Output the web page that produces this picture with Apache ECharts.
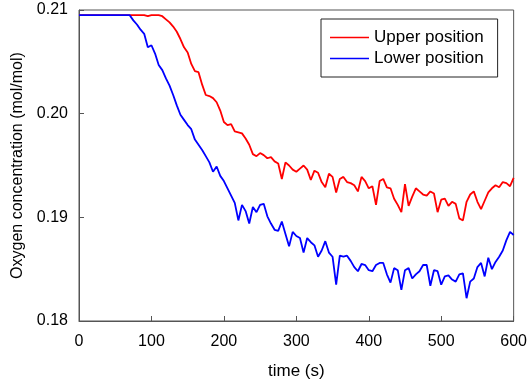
<!DOCTYPE html>
<html>
<head>
<meta charset="utf-8">
<script src="https://cdn.jsdelivr.net/npm/echarts@6/dist/echarts.min.js"></script>
<style>html,body{margin:0;padding:0;background:#fff}#c{width:530px;height:385px}</style>
</head>
<body>
<div id="c"></div>
<script>
// time (s), 5 s steps
var times = [];
for (var i = 0; i <= 120; i++) times.push(i * 5);

var upperPosition = [
 0.2095,0.2095,0.2095,0.2095,0.2095,0.2095,0.2095,0.2095,0.2095,0.2095,
 0.2095,0.2095,0.2095,0.2095,0.2095,0.2095,0.2095,0.2095,0.2095,0.2094,
 0.2095,0.2095,0.2095,0.2094,0.2091,0.2088,0.2084,0.2079,0.2072,0.2064,
 0.2059,0.2048,0.2041,0.2040,0.2028,0.2018,0.2017,0.2015,0.2011,0.2003,
 0.1992,0.1989,0.1990,0.1983,0.1982,0.1981,0.1976,0.1970,0.1961,0.1959,
 0.1962,0.1960,0.1957,0.1958,0.1954,0.1952,0.1937,0.1953,0.1950,0.1946,
 0.1944,0.1947,0.1950,0.1946,0.1936,0.1945,0.1943,0.1934,0.1929,0.1942,
 0.1939,0.1924,0.1937,0.1939,0.1934,0.1933,0.1931,0.1925,0.1939,0.1935,
 0.1928,0.1930,0.1912,0.1935,0.1937,0.1929,0.1928,0.1918,0.1912,0.1905,
 0.1932,0.1911,0.1920,0.1928,0.1925,0.1922,0.1921,0.1925,0.1923,0.1905,
 0.1917,0.1918,0.1911,0.1915,0.1913,0.1899,0.1897,0.1915,0.1922,0.1925,
 0.1915,0.1908,0.1916,0.1924,0.1928,0.1931,0.1929,0.1934,0.1933,0.1930,
 0.1938
];

var lowerPosition = [
 0.2095,0.2095,0.2095,0.2095,0.2095,0.2095,0.2095,0.2095,0.2095,0.2095,
 0.2095,0.2095,0.2095,0.2095,0.2095,0.2090,0.2086,0.2081,0.2077,0.2064,
 0.2066,0.2058,0.2047,0.2042,0.2034,0.2027,0.2018,0.2008,0.1999,0.1994,
 0.1989,0.1985,0.1975,0.1970,0.1965,0.1959,0.1953,0.1944,0.1949,0.1940,
 0.1935,0.1928,0.1921,0.1914,0.1897,0.1912,0.1906,0.1894,0.1910,0.1905,
 0.1912,0.1913,0.1901,0.1894,0.1888,0.1887,0.1896,0.1884,0.1872,0.1886,
 0.1882,0.1880,0.1866,0.1880,0.1876,0.1873,0.1862,0.1868,0.1877,0.1866,
 0.1862,0.1835,0.1863,0.1862,0.1863,0.1858,0.1852,0.1848,0.1855,0.1854,
 0.1849,0.1848,0.1854,0.1856,0.1856,0.1845,0.1837,0.1851,0.1849,0.1830,
 0.1849,0.1851,0.1841,0.1845,0.1848,0.1854,0.1854,0.1834,0.1849,0.1848,
 0.1835,0.1843,0.1844,0.1840,0.1838,0.1845,0.1846,0.1822,0.1838,0.1841,
 0.1852,0.1856,0.1843,0.1861,0.1850,0.1857,0.1862,0.1868,0.1878,0.1886,
 0.1883
];

var seriesNames = ['Upper position', 'Lower position'];

function pairs(t, v) { return t.map(function (x, i) { return [x, v[i]]; }); }

var FONT = '"Liberation Sans", Arial, sans-serif';
var chart = echarts.init(document.getElementById('c'), null, { renderer: 'canvas' });
chart.setOption({
  animation: false,
  backgroundColor: '#fff',
  textStyle: { fontFamily: FONT },
  grid: { left: 79, right: 16, top: 10, bottom: 62, show: true, borderColor: '#555', borderWidth: 1, backgroundColor: 'transparent' },
  legend: {
    orient: 'vertical', left: 321, top: 19,
    padding: [10, 14, 10, 9],
    icon: 'rect',
    itemWidth: 39, itemHeight: 1.6, itemGap: 4, itemTextGap: 10,
    backgroundColor: '#fff', borderColor: '#222', borderWidth: 1, borderRadius: 0,
    textStyle: { fontFamily: FONT, fontSize: 17, color: '#000', lineHeight: 17 },
    data: seriesNames
  },
  xAxis: {
    type: 'value', min: 0, max: 600, interval: 100,
    name: 'time (s)', nameLocation: 'middle', nameGap: 42,
    nameTextStyle: { fontFamily: FONT, fontSize: 17, color: '#000', verticalAlign: 'top' },
    axisLine: { show: true, lineStyle: { color: '#555', width: 1 } },
    axisTick: { show: true, inside: true, length: 5, lineStyle: { color: '#555' } },
    axisLabel: { fontFamily: FONT, fontSize: 16, color: '#000', margin: 13 },
    splitLine: { show: false }
  },
  yAxis: {
    type: 'value', min: 0.18, max: 0.21, interval: 0.01,
    name: 'Oxygen concentration (mol/mol)', nameLocation: 'middle', nameGap: 52,
    nameTextStyle: { fontFamily: FONT, fontSize: 16, color: '#000' },
    axisLine: { show: true, lineStyle: { color: '#555', width: 1 } },
    axisTick: { show: true, inside: true, length: 5, lineStyle: { color: '#555' } },
    axisLabel: { fontFamily: FONT, fontSize: 16, color: '#000', margin: 11,
      formatter: function (v) { return v.toFixed(2); } },
    splitLine: { show: false }
  },
  series: [
    { name: seriesNames[0], type: 'line', symbol: 'none', data: pairs(times, upperPosition),
      lineStyle: { color: '#ff0000', width: 1.8 }, itemStyle: { color: '#ff0000' } },
    { name: seriesNames[1], type: 'line', symbol: 'none', data: pairs(times, lowerPosition),
      lineStyle: { color: '#0000ff', width: 1.8 }, itemStyle: { color: '#0000ff' } }
  ]
});
</script>
</body>
</html>
